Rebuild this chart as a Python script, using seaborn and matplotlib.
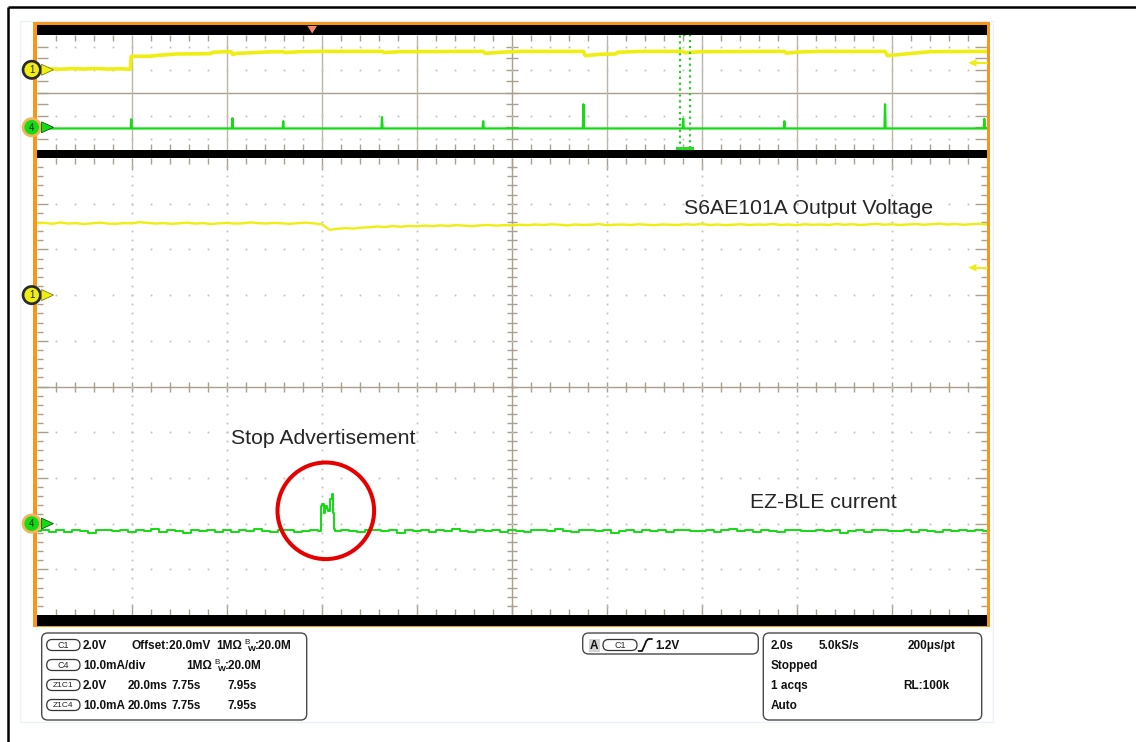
import numpy as np
import pandas as pd
import matplotlib
matplotlib.use("Agg")
import matplotlib.pyplot as plt
import seaborn as sns
from matplotlib.patches import Rectangle, Circle, Polygon, FancyBboxPatch
from matplotlib.collections import LineCollection

# ---------------------------------------------------------------- data
# Full record: 2 s/div, 10 div, trigger at t = 0
REC_START, REC_END = -5.8, 14.2
# Zoom window Z1: 20 ms/div
ZOOM_START, ZOOM_END = 7.75, 7.95

# Channel scales: units per division and ground position (div from centre)
CH1_VDIV, CH1_POS = 2.0, 2.0
CH4_MADIV, CH4_POS = 10.0, -3.0
TRIG_LEVEL = 1.2

# C1 (S6AE101A output voltage) inside the zoom window, V
ch1_zoom_v = [
    3.14, 3.16, 3.12, 3.18, 3.13, 3.15, 3.11, 3.14, 3.17, 3.13,
    3.12, 3.15, 3.14, 3.19, 3.16, 3.13, 3.15, 3.12, 3.14, 3.17,
    3.13, 3.15, 3.11, 3.14, 3.16, 3.13, 3.14, 3.18, 3.15, 3.13,
    3.16, 3.14, 3.12, 3.15, 3.17, 3.14, 3.10, 2.86, 2.90, 2.93,
    2.91, 2.95, 2.97, 3.00, 2.98, 3.02, 2.99, 3.03, 3.01, 3.04,
    3.02, 3.05, 3.03, 3.06, 3.04, 3.02, 3.05, 3.07, 3.04, 3.06,
    3.05, 3.08, 3.06, 3.09, 3.07, 3.10, 3.08, 3.05, 3.09, 3.07,
    3.08, 3.11, 3.06, 3.08, 3.09, 3.07, 3.10, 3.08, 3.06, 3.09,
    3.08, 3.07, 3.10, 3.08, 3.11, 3.07, 3.09, 3.06, 3.08, 3.10,
    3.07, 3.09, 3.08, 3.11, 3.07, 3.09, 3.06, 3.10, 3.08, 3.09,
    3.07, 3.11, 3.08, 3.10, 3.07, 3.09, 3.12, 3.08, 3.10, 3.07,
    3.09, 3.11, 3.08, 3.10, 3.13, 3.09, 3.11, 3.08, 3.10, 3.12,
    3.09,
]

# C4 (EZ-BLE current) inside the zoom window, mA
ch4_zoom_ma = [
    -1.6, -1.3, -1.8, -1.5, -1.9, -1.4, -1.6, -2.0, -1.5, -1.3,
    -1.7, -1.5, -1.9, -1.4, -1.6, -1.2, -1.8, -1.5, -1.7, -2.0,
    -1.4, -1.6, -1.3, -1.8, -1.5, -1.9, -1.4, -1.7, -1.2, -1.6,
    -1.8, -1.5, -1.4, -1.9, -1.6, -1.3, -1.5, -1.6, -1.7, -1.4,
    -1.6, -1.9, -1.5, -1.3, -1.7, -1.5, -2.0, -1.4, -1.6, -1.3,
    -1.8, -1.5, -1.7, -1.2, -1.6, -1.9, -1.4, -1.6, -1.5, -1.8,
    -1.3, -1.6, -1.9, -1.5, -1.4, -1.7, -1.2, -1.6, -1.8, -1.5,
    -1.4, -1.7, -1.5, -2.0, -1.6, -1.3, -1.8, -1.5, -1.6, -1.4,
    -1.9, -1.5, -1.3, -1.7, -1.6, -1.4, -1.8, -1.5, -1.2, -1.6,
    -1.5, -1.8, -1.4, -1.6, -1.9, -1.5, -1.3, -1.7, -1.6, -1.4,
    -1.7, -1.5, -2.0, -1.6, -1.3, -1.8, -1.5, -1.4, -1.7, -1.6,
    -1.4, -1.8, -1.5, -1.6, -1.9, -1.3, -1.6, -1.5, -1.7, -1.5,
    -1.6,
]

# "Stop Advertisement" current burst, s / mA
burst_t = [7.80990, 7.81000, 7.81021, 7.81055, 7.81091, 7.81126,
           7.81160, 7.81196, 7.81232, 7.81253, 7.81274, 7.81290]
burst_ma = [-1.6, 3.9, 4.3, 2.4, 3.9, 3.2, 2.8, 5.4, 6.5, 2.4, -1.2, -1.6]

# C1 over the whole record, s / V
ch1_rec_t = [-5.80, -5.55, -5.30, -5.05, -4.80, -4.55, -4.30, -4.05, -3.83,
             -3.81, -3.41, -3.26, -2.84, -2.15, -2.08, -1.81, -1.70, -1.67,
             -1.60, -1.31, -0.97,
             -0.61, -0.57, -0.25, 0.17, 1.47, 1.52, 1.85, 3.60, 3.64, 3.96, 4.38,
             5.71, 5.75, 6.06, 6.38, 6.44, 6.91, 7.81, 7.85, 8.17,
             9.94, 9.98, 10.27, 10.69, 12.06, 12.11, 12.48, 13.01, 14.20]
ch1_rec_v = [0.12, 0.18, 0.10, 0.20, 0.14, 0.22, 0.12, 0.18, 0.10,
             2.33, 2.36, 2.50, 2.75, 2.80, 3.05, 3.15, 3.12, 2.65,
             2.85, 2.95, 3.10,
             3.15, 3.00, 3.15, 3.20, 3.20, 3.00, 3.15, 3.20, 2.86, 3.05, 3.20,
             3.20, 2.45, 2.70, 2.75, 3.05, 3.20, 3.20, 2.95, 3.15,
             3.20, 2.90, 3.10, 3.20, 3.20, 2.46, 2.75, 3.15, 3.20]

# C4 over the whole record: baseline and advertising pulses, s / mA
ch4_rec_base_ma = -1.0
ch4_pulse_t = [-3.81, -1.68, -0.61, 1.47, 3.60, 5.71, 7.81, 9.94, 12.06, 14.15]
ch4_pulse_ma = [7.0, 7.9, 5.3, 8.8, 5.3, 20.0, 7.6, 5.3, 20.0, 7.3]

# ---------------------------------------------------------------- style
sns.set_style("white")
plt.rcParams['font.family'] = ['Liberation Sans', 'DejaVu Sans']

YEL = '#EEEE12'
GRN = '#12DC12'
GRID = '#A99F8C'
DOT = '#C2C2C2'
ORANGE = '#F7961E'

W, H = 1136, 742
fig = plt.figure(figsize=(W / 100, H / 100), dpi=100)

X0, X1 = 36.7, 986.7
OV_TOP, OV_BOT = 35.3, 150.3
MN_TOP, MN_BOT = 158.0, 615.0


def frac_rect(x0, top, x1, bot):
    return [x0 / W, 1 - bot / H, (x1 - x0) / W, (bot - top) / H]


def to_div(values, scale, pos):
    return np.asarray(values, dtype=float) / scale + pos


# ---------------------------------------------------------------- bezel
bg = fig.add_axes([0, 0, 1, 1], zorder=0)
bg.set_xlim(0, W)
bg.set_ylim(H, 0)
bg.axis('off')
bg.plot([7.5, W], [6.5, 6.5], color='black', lw=1.8, solid_capstyle='butt')
bg.plot([7.5, 7.5], [6.5, H], color='black', lw=1.8, solid_capstyle='butt')
bg.add_patch(Rectangle((20, 20.7), 973, 701, fill=False, ec='#ECF1F7', lw=1))
bg.add_patch(Rectangle((33.3, 22), 990 - 33.3, 627.3 - 22, fc=ORANGE, ec='none'))
bg.add_patch(Rectangle((X0, 25), X1 - X0, 625.7 - 25, fc='black', ec='none'))

# ---------------------------------------------------------------- axes
ax_ov = fig.add_axes(frac_rect(X0, OV_TOP, X1, OV_BOT), zorder=2)
ax_mn = fig.add_axes(frac_rect(X0, MN_TOP, X1, MN_BOT), zorder=2)


def segs_lc(ax, segs, color=GRID, lw=1.0):
    ax.add_collection(LineCollection(segs, colors=color, linewidths=lw,
                                     transform=ax.transAxes, zorder=1))


def dots(ax, xs, ys):
    ax.plot(xs, ys, ls='none', marker='s', ms=1.3, mew=0, color=DOT,
            transform=ax.transAxes, zorder=1)


def graticule_main(ax, wpx, hpx):
    segs = []
    xs_min = [i / 50 for i in range(1, 50) if i % 5]
    xs_maj = [k / 10 for k in range(1, 10)]
    for x in xs_min + xs_maj:
        L = (11.5 if x in xs_maj else 6) / hpx
        segs += [[(x, 0), (x, L)], [(x, 1), (x, 1 - L)]]
        segs.append([(x, 0.5 - 5 / hpx), (x, 0.5 + 5 / hpx)])
    for y in xs_min + xs_maj:
        L = (11.5 if y in xs_maj else 6) / wpx
        segs += [[(0, y), (L, y)], [(1, y), (1 - L, y)]]
        segs.append([(0.5 - 5 / wpx, y), (0.5 + 5 / wpx, y)])
    segs += [[(0.5, 0), (0.5, 1)], [(0, 0.5), (1, 0.5)]]
    segs_lc(ax, segs)
    dx, dy = [], []
    for k in range(1, 10):
        if k == 5:
            continue
        for j in range(1, 50):
            dx += [k / 10, j / 50]
            dy += [j / 50, k / 10]
    dots(ax, dx, dy)


def graticule_overview(ax, wpx, hpx):
    segs = []
    for i in range(1, 50):
        if i % 5:
            x = i / 50
            L = 6 / hpx
            segs += [[(x, 0), (x, L)], [(x, 1), (x, 1 - L)]]
    for j in range(1, 10):
        y = j / 10
        L = 11.5 / wpx
        segs += [[(0, y), (L, y)], [(1, y), (1 - L, y)]]
        segs.append([(0.5 - 6 / wpx, y), (0.5 + 6 / wpx, y)])
    segs += [[(0.5, 0), (0.5, 1)], [(0, 0.5), (1, 0.5)]]
    segs_lc(ax, segs)
    cols = [[(k / 10, 0), (k / 10, 1)] for k in range(1, 10) if k != 5]
    segs_lc(ax, cols, color='#BDB5A6', lw=1.0)
    dx, dy = [], []
    for y in (0.1, 0.3, 0.7, 0.9):
        for i in range(1, 50):
            dx.append(i / 50)
            dy.append(y)
    dots(ax, dx, dy)


# ---- overview traces
rec1 = pd.DataFrame({'t': ch1_rec_t,
                     'div': to_div(ch1_rec_v, CH1_VDIV, CH1_POS)})
rec4_t, rec4_ma = [REC_START], [ch4_rec_base_ma]
for tp, pk in zip(ch4_pulse_t, ch4_pulse_ma):
    rec4_t += [tp - 0.012, tp, tp + 0.012]
    rec4_ma += [ch4_rec_base_ma, pk, ch4_rec_base_ma]
rec4_t.append(REC_END)
rec4_ma.append(ch4_rec_base_ma)
rec4 = pd.DataFrame({'t': rec4_t, 'div': to_div(rec4_ma, CH4_MADIV, CH4_POS)})

sns.lineplot(data=rec1, x='t', y='div', ax=ax_ov, color=YEL, lw=2.6,
             estimator=None, sort=False, zorder=3)
sns.lineplot(data=rec4, x='t', y='div', ax=ax_ov, color=GRN, lw=1.6,
             estimator=None, sort=False, zorder=4)

# zoom window marker on the record
ax_ov.axvspan(ZOOM_START, ZOOM_END, fill=False, ec='#2EC82E', ls=':', lw=1.6,
              zorder=5)
ax_ov.axvspan(ZOOM_START - 0.09, ZOOM_END + 0.09, ymin=0, ymax=0.03,
              fc='#22E022', ec='none', zorder=6)

# ---- zoom traces
t_zoom = np.linspace(ZOOM_START, ZOOM_END, len(ch1_zoom_v))
zoom = pd.DataFrame({'t': t_zoom,
                     'ch1': to_div(ch1_zoom_v, CH1_VDIV, CH1_POS),
                     'ch4': to_div(ch4_zoom_ma, CH4_MADIV, CH4_POS)})
burst = pd.DataFrame({'t': burst_t, 'ch4': to_div(burst_ma, CH4_MADIV, CH4_POS)})
keep = (zoom['t'] < burst_t[0] - 1e-7) | (zoom['t'] > burst_t[-1] + 1e-7)
zoom4 = pd.concat([zoom.loc[keep, ['t', 'ch4']], burst]).sort_values('t')

sns.lineplot(data=zoom, x='t', y='ch1', ax=ax_mn, color=YEL, lw=1.7,
             estimator=None, sort=False, zorder=3)
sns.lineplot(data=zoom4, x='t', y='ch4', ax=ax_mn, color=GRN, lw=1.4,
             estimator=None, sort=False, drawstyle='steps-mid', zorder=4)

for ax, (lo, hi) in ((ax_ov, (REC_START, REC_END)), (ax_mn, (ZOOM_START, ZOOM_END))):
    ax.set_facecolor('white')
    for s in ax.spines.values():
        s.set_visible(False)
    ax.set_xlim(lo, hi)
    ax.set_ylim(-5, 5)
    ax.set_xticks([])
    ax.set_yticks([])
    ax.set_xlabel('')
    ax.set_ylabel('')

graticule_overview(ax_ov, X1 - X0, OV_BOT - OV_TOP)
graticule_main(ax_mn, X1 - X0, MN_BOT - MN_TOP)

# ---------------------------------------------------------------- overlay
ov = fig.add_axes([0, 0, 1, 1], zorder=5)
ov.set_xlim(0, W)
ov.set_ylim(H, 0)
ov.axis('off')


def level_px(top, bot, div):
    return (top + bot) / 2 - div * (bot - top) / 10


def ch_marker(y, label, fill, ring, arrow_ec):
    ov.add_patch(Circle((31.7, y), 10, fc=ring, ec='none', zorder=2))
    ov.add_patch(Circle((31.7, y), 7.3, fc=fill, ec='none', zorder=3))
    ov.add_patch(Polygon([[41.5, y - 5.5], [41.5, y + 5.5], [53.5, y]],
                         closed=True, fc=fill, ec=arrow_ec, lw=0.5, zorder=3))
    ov.text(31.7, y + 0.3, label, fontsize=7, ha='center', va='center',
            color='#222222', zorder=4)


def trig_arrow(y):
    ov.add_patch(Polygon([[968.3, y], [976.5, y - 3.8], [976.5, y + 3.8]],
                         closed=True, fc=YEL, ec='none', zorder=3))
    ov.plot([975, 986.7], [y, y], color=YEL, lw=1.4, zorder=3)


for top, bot in ((OV_TOP, OV_BOT), (MN_TOP, MN_BOT)):
    ch_marker(level_px(top, bot, CH1_POS), '1', YEL, '#2A2A2A', '#6B6B00')
    ch_marker(level_px(top, bot, CH4_POS), '4', GRN, '#F7B25A', '#0A3A0A')
    trig_arrow(level_px(top, bot, TRIG_LEVEL / CH1_VDIV + CH1_POS))

# trigger position on the record
t_trig_px = X0 + (0 - REC_START) / (REC_END - REC_START) * (X1 - X0)
ov.add_patch(Polygon([[t_trig_px - 4.8, 26], [t_trig_px + 4.8, 26],
                      [t_trig_px, 33.5]], closed=True, fc='#F4876A', ec='none'))

# annotations
ov.text(684, 213.5, 'S6AE101A Output Voltage', fontsize=15.3, ha='left',
        va='baseline')
ov.text(323, 444.5, 'Stop Advertisement', fontsize=15.3, ha='center',
        va='baseline')
ov.text(750, 508.5, 'EZ-BLE current', fontsize=15.3, ha='left', va='baseline')
ov.add_patch(Circle((325.8, 510.8), 48.3, fill=False, ec='#E60000', lw=2.9))

# ---------------------------------------------------------------- info boxes
def box(x0, y0, x1, y1):
    ov.add_patch(FancyBboxPatch((x0, y0), x1 - x0, y1 - y0,
                                boxstyle='round,pad=0,rounding_size=6',
                                fc='white', ec='#4A4A4A', lw=1.0))


def pill(x0, x1, yc, label, fs=6.5):
    h = 11
    ov.add_patch(FancyBboxPatch((x0, yc - h / 2), x1 - x0, h,
                                boxstyle=f'round,pad=0,rounding_size={h / 2}',
                                fc='white', ec='#333333', lw=0.9))
    ov.text((x0 + x1) / 2, yc + 0.3, label, fontsize=fs, ha='center',
            va='center', color='#222222')


def bt(x, yc, s):
    ov.text(x, yc + 4.2, s, fontsize=8.5, fontweight='bold', ha='left',
            va='baseline', color='#111111')


def bw(x, yc, rest):
    ov.text(x, yc - 0.8, 'B', fontsize=5.8, ha='left', va='baseline',
            color='#111111')
    ov.text(x + 4.3, yc + 5.6, 'W', fontsize=6.0, fontweight='bold',
            ha='left', va='baseline', color='#111111')
    bt(x + 11.0, yc, rest)


rows = [645, 665, 685, 705]
box(41.7, 633, 306.7, 720)
pill(46.7, 80, rows[0], 'C1')
bt(83, rows[0], f'{CH1_VDIV:.1f}V')
bt(132, rows[0], 'Offset:20.0mV')
bt(216.5, rows[0], '1MΩ')
bw(244, rows[0], ':20.0M')
pill(46.7, 80, rows[1], 'C4')
bt(83, rows[1], f'{CH4_MADIV:.1f}mA/div')
bt(186.5, rows[1], '1MΩ')
bw(214, rows[1], ':20.0M')
pill(46.7, 80, rows[2], 'Z1C1', fs=6)
bt(83, rows[2], f'{CH1_VDIV:.1f}V')
pill(46.7, 80, rows[3], 'Z1C4', fs=6)
bt(83, rows[3], f'{CH4_MADIV:.1f}mA')
for r in rows[2:]:
    bt(128, r, f'{(ZOOM_END - ZOOM_START) * 100:.1f}ms')
    bt(172, r, f'{ZOOM_START:.2f}s')
    bt(227, r, f'{ZOOM_END:.2f}s')

# trigger box
box(582.7, 633, 758.3, 654)
ov.add_patch(Rectangle((589, 638.5), 10.5, 13, fc='#D4D4D4', ec='none'))
ov.text(594.2, rows[0] + 4.2, 'A', fontsize=8.5, fontweight='bold',
        ha='center', va='baseline', color='#111111')
pill(603, 637, rows[0], 'C1')
ov.plot([638.5, 642, 644.3, 646.3, 648.3, 652], [651, 651, 646, 641, 639, 639],
        color='#111111', lw=1.3, solid_capstyle='round')
bt(655, rows[0], f'{TRIG_LEVEL:.1f}V')

# acquisition box
box(763.3, 633, 981.7, 720)
bt(771, rows[0], '2.0s')
bt(819, rows[0], '5.0kS/s')
bt(908, rows[0], '200μs/pt')
bt(771, rows[1], 'Stopped')
bt(771, rows[2], '1 acqs')
bt(903, rows[2], 'RL:100k')
bt(771, rows[3], 'Auto')

fig.savefig('out.png', dpi=100)
